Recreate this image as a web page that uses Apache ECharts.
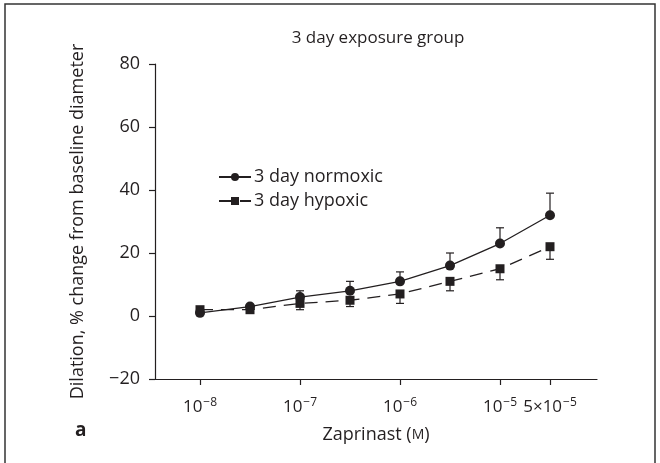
<!DOCTYPE html>
<html>
<head>
<meta charset="utf-8">
<script src="https://cdn.jsdelivr.net/npm/echarts@6/dist/echarts.min.js"></script>
<style>
  html, body { margin: 0; padding: 0; background: #fff; }
  #main { width: 660px; height: 463px; }
</style>
</head>
<body>
<div id="main"></div>
<script>
// x positions: half-decade steps from 1e-8 to 5e-5
var doseIndex = [0, 1, 2, 3, 4, 5, 6, 7];
var tickIndex = [0, 2, 4, 6, 7];
var tickLabels = ["10{s|−8}", "10{s|−7}", "10{s|−6}", "10{s|−5}", "5×10{s|−5}"];

var normoxic = [1, 3, 6, 8, 11, 16, 23, 32];
var normoxicErr = [0, 0, 2, 3, 3, 4, 5, 7];   // drawn upward
var hypoxic = [2, 2, 4, 5, 7, 11, 15, 22];
var hypoxicErr = [0, 0, 2, 2, 3, 3, 3.5, 4];  // drawn downward

var ink = "#231f20";
var font = "Open Sans";

var chart = echarts.init(document.getElementById("main"));

function errData(vals, errs, dir) {
  return doseIndex.map(function (x, i) {
    return [x, vals[i], vals[i] + dir * errs[i]];
  });
}

function renderErr(params, api) {
  var p0 = api.coord([api.value(0), api.value(1)]);
  var p1 = api.coord([api.value(0), api.value(2)]);
  if (Math.abs(p1[1] - p0[1]) < 1) return null;
  var style = { stroke: ink, lineWidth: 1.2 };
  return {
    type: "group",
    children: [
      { type: "line", shape: { x1: p0[0], y1: p0[1], x2: p1[0], y2: p1[1] }, style: style },
      { type: "line", shape: { x1: p1[0] - 4, y1: p1[1], x2: p1[0] + 4, y2: p1[1] }, style: style }
    ]
  };
}

var option = {
  animation: false,
  textStyle: { fontFamily: font, color: ink },
  title: {
    text: "3 day exposure group",
    left: 373,
    textAlign: "center",
    top: 25,
    textStyle: { fontFamily: font, fontSize: 17, fontWeight: "normal", color: ink }
  },
  graphic: [
    {
      type: "rect",
      shape: { x: 5, y: 4, width: 650, height: 470 },
      style: { fill: "none", stroke: "#333", lineWidth: 1.5 }
    },
    {
      type: "text",
      left: 75,
      top: 421,
      style: { text: "a", font: "bold 19px " + font, fill: ink }
    }
  ],
  legend: {
    orient: "vertical",
    left: 213,
    top: 163,
    itemWidth: 32,
    itemHeight: 10,
    itemGap: 6,
    textStyle: { fontFamily: font, fontSize: 18, color: ink, padding: [0, 0, 0, -2] },
    data: ["3 day normoxic", "3 day hypoxic"]
  },
  grid: { left: 155, right: 63, top: 64, bottom: 84 },
  xAxis: {
    type: "value",
    min: -0.9,
    max: 7.94,
    name: "Zaprinast ({m|M})",
    nameLocation: "middle",
    nameGap: 47,
    nameTextStyle: {
      fontFamily: font, fontSize: 18, color: ink,
      rich: { m: { fontSize: 14, fontFamily: font, color: ink } }
    },
    splitLine: { show: false },
    axisLine: { onZero: false, lineStyle: { color: ink, width: 1.2 } },
    axisTick: { customValues: tickIndex, length: 6, lineStyle: { color: ink, width: 1.2 } },
    axisLabel: {
      customValues: tickIndex,
      margin: 18,
      formatter: function (v) {
        return tickLabels[tickIndex.indexOf(v)];
      },
      fontFamily: font,
      fontSize: 17,
      color: ink,
      rich: { s: { fontSize: 12, verticalAlign: "top", padding: [0, 0, 9, 1], fontFamily: font, color: ink } }
    }
  },
  yAxis: {
    type: "value",
    min: -20,
    max: 80,
    interval: 20,
    name: "Dilation, % change from baseline diameter",
    nameLocation: "middle",
    nameGap: 68,
    nameTextStyle: { fontFamily: font, fontSize: 18, color: ink },
    splitLine: { show: false },
    axisLine: { show: true, onZero: false, lineStyle: { color: ink, width: 1.2 } },
    axisTick: { show: true, length: 6, lineStyle: { color: ink, width: 1.2 } },
    axisLabel: {
      margin: 15,
      fontFamily: font,
      fontSize: 18,
      color: ink,
      formatter: function (v) { return v < 0 ? "−" + Math.abs(v) : String(v); }
    }
  },
  series: [
    {
      type: "custom",
      renderItem: renderErr,
      data: errData(normoxic, normoxicErr, 1),
      z: 1,
      silent: true
    },
    {
      type: "custom",
      renderItem: renderErr,
      data: errData(hypoxic, hypoxicErr, -1),
      z: 1,
      silent: true
    },
    {
      name: "3 day normoxic",
      type: "line",
      data: doseIndex.map(function (x, i) { return [x, normoxic[i]]; }),
      symbol: "circle",
      symbolSize: 10,
      z: 3,
      lineStyle: { color: ink, width: 1.3 },
      itemStyle: { color: ink }
    },
    {
      name: "3 day hypoxic",
      type: "line",
      data: doseIndex.map(function (x, i) { return [x, hypoxic[i]]; }),
      symbol: "rect",
      symbolSize: 9,
      z: 2,
      lineStyle: { color: ink, width: 1.3, type: [13, 8] },
      itemStyle: { color: ink }
    }
  ]
};

chart.setOption(option);
</script>
</body>
</html>
